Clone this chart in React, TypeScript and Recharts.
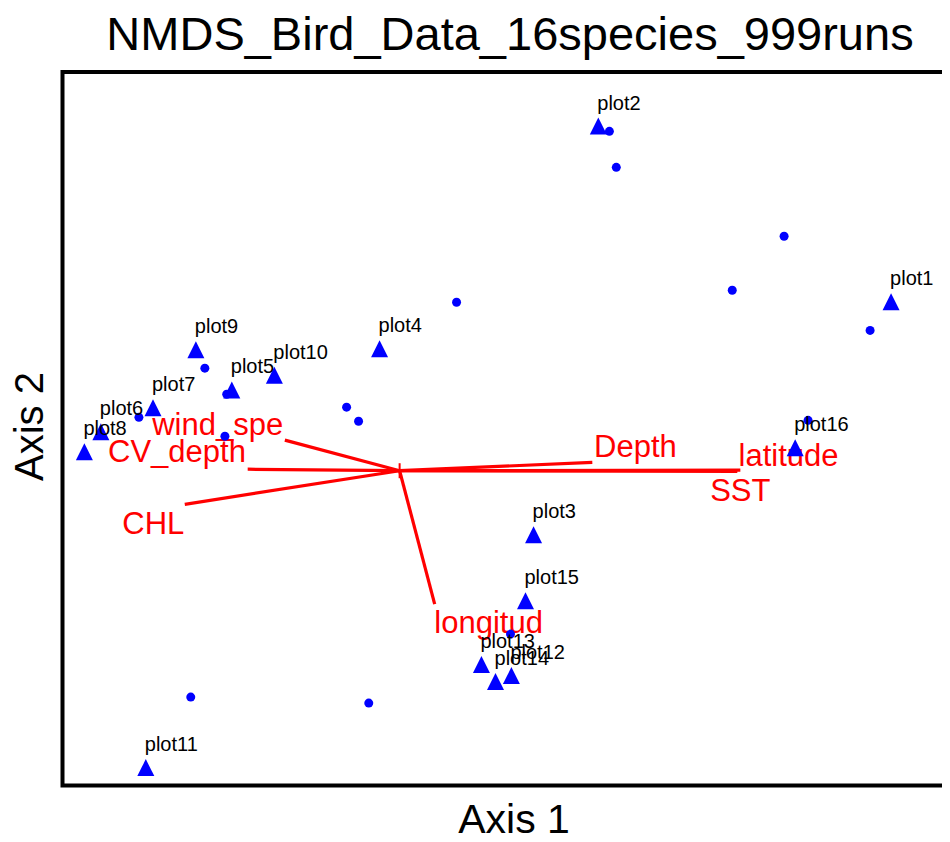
import React from 'react';
import {
  ScatterChart,
  Scatter,
  XAxis,
  YAxis,
  ReferenceLine,
  ReferenceArea,
  Customized,
} from 'recharts';

// NMDS ordination scores (axis units)
const plotNames = [
  'plot1', 'plot2', 'plot3', 'plot4', 'plot5', 'plot6', 'plot7', 'plot8',
  'plot9', 'plot10', 'plot11', 'plot12', 'plot13', 'plot14', 'plot15', 'plot16',
];
const plotAxis1 = [
  1.640, 0.663, 0.447, -0.067, -0.560, -0.997, -0.823, -1.052,
  -0.680, -0.418, -0.847, 0.373, 0.273, 0.320, 0.420, 1.320,
];
const plotAxis2 = [
  0.562, 1.148, -0.215, 0.405, 0.268, 0.128, 0.208, 0.062,
  0.402, 0.317, -0.992, -0.685, -0.648, -0.705, -0.435, 0.075,
];

// species scores
const speciesAxis1 = [
  0.700, 0.723, 1.283, 1.110, 1.570, 0.190, -0.650, -0.577,
  -0.870, -0.583, -0.177, -0.137, 1.363, 0.370, -0.697, -0.103,
];
const speciesAxis2 = [
  1.132, 1.012, 0.782, 0.602, 0.468, 0.562, 0.342, 0.255,
  0.178, 0.115, 0.212, 0.165, 0.168, -0.545, -0.755, -0.775,
];

// environmental fit vectors and where their names sit
const vectorNames = ['wind_spe', 'CV_depth', 'CHL', 'Depth', 'latitude', 'SST', 'longitud'];
const vectorAxis1 = [-0.383, -0.507, -0.717, 0.643, 1.137, 1.127, 0.117];
const vectorAxis2 = [0.102, 0.005, -0.112, 0.028, 0.002, -0.002, -0.445];
const vectorLabelAxis1 = [-0.607, -0.743, -0.822, 0.787, 1.298, 1.137, 0.297];
const vectorLabelAxis2 = [0.118, 0.028, -0.212, 0.045, 0.015, -0.102, -0.542];

const xDomain: [number, number] = [-1.125, 1.87];
const yDomain: [number, number] = [-1.05, 1.33];

const FONT = '"Liberation Sans", Arial, Helvetica, sans-serif';
const BLUE = '#0000ff';
const RED = '#ff0000';

const plotData = plotNames.map((name, i) => ({ name, x: plotAxis1[i], y: plotAxis2[i] }));
const speciesData = speciesAxis1.map((x, i) => ({ x, y: speciesAxis2[i] }));
const vectorLabelData = vectorNames.map((name, i) => ({
  name,
  x: vectorLabelAxis1[i],
  y: vectorLabelAxis2[i],
}));

const Triangle = (props: any) => {
  const { cx, cy } = props;
  if (cx == null || cy == null) return null;
  return (
    <path
      d={`M${cx},${cy - 9} L${cx + 8.5},${cy + 8} L${cx - 8.5},${cy + 8} Z`}
      fill={BLUE}
    />
  );
};

const Dot = (props: any) => {
  const { cx, cy } = props;
  if (cx == null || cy == null) return null;
  return <circle cx={cx} cy={cy} r={4.5} fill={BLUE} />;
};

const PlotLabel = (props: any) => {
  const { cx, cy, payload } = props;
  if (cx == null || cy == null) return null;
  return (
    <text x={cx - 1} y={cy - 17} fontSize={20} fontFamily={FONT} fill="#000">
      {payload.name}
    </text>
  );
};

const VectorLabel = (props: any) => {
  const { cx, cy, payload } = props;
  if (cx == null || cy == null) return null;
  return (
    <text x={cx} y={cy} fontSize={31} fontFamily={FONT} fill={RED} textAnchor="middle">
      {payload.name}
    </text>
  );
};

const Titles = () => (
  <g fontFamily={FONT} fill="#000">
    <text x={502} y={42} fontSize={47} textAnchor="middle">
      NMDS_Bird_Data_16species_999runs
    </text>
    <text x={506} y={825} fontSize={41} textAnchor="middle">
      Axis 1
    </text>
    <text x={35} y={418.5} fontSize={40} textAnchor="middle" transform="rotate(-90, 35, 418.5)">
      Axis 2
    </text>
  </g>
);

export default function App() {
  return (
    <div style={{ width: 942, height: 834, overflow: 'hidden', marginBottom: -8 }}>
      <ScatterChart
        width={1000}
        height={834}
        margin={{ top: 64, right: 48, bottom: 56.5, left: 54.5 }}
      >
        <XAxis type="number" dataKey="x" domain={xDomain} allowDataOverflow hide />
        <YAxis type="number" dataKey="y" domain={yDomain} allowDataOverflow hide />
        <ReferenceArea
          x1={xDomain[0]}
          x2={xDomain[1]}
          y1={yDomain[0]}
          y2={yDomain[1]}
          fill="none"
          fillOpacity={0}
          stroke="#000"
          strokeWidth={4}
          ifOverflow="visible"
        />
        {vectorNames.map((name, i) => (
          <ReferenceLine
            key={name}
            segment={[
              { x: 0, y: 0 },
              { x: vectorAxis1[i], y: vectorAxis2[i] },
            ]}
            stroke={RED}
            strokeWidth={3.2}
            ifOverflow="visible"
          />
        ))}
        <ReferenceLine
          segment={[{ x: 0, y: -0.025 }, { x: 0, y: 0.025 }]}
          stroke={RED}
          strokeWidth={2}
        />
        <ReferenceLine
          segment={[{ x: -0.025, y: 0 }, { x: 0.025, y: 0 }]}
          stroke={RED}
          strokeWidth={2}
        />
        <Scatter data={vectorLabelData} shape={VectorLabel} isAnimationActive={false} />
        <Scatter data={speciesData} shape={Dot} isAnimationActive={false} />
        <Scatter data={plotData} shape={Triangle} isAnimationActive={false} />
        <Scatter data={plotData} shape={PlotLabel} isAnimationActive={false} />
        <Customized component={Titles} />
      </ScatterChart>
    </div>
  );
}
